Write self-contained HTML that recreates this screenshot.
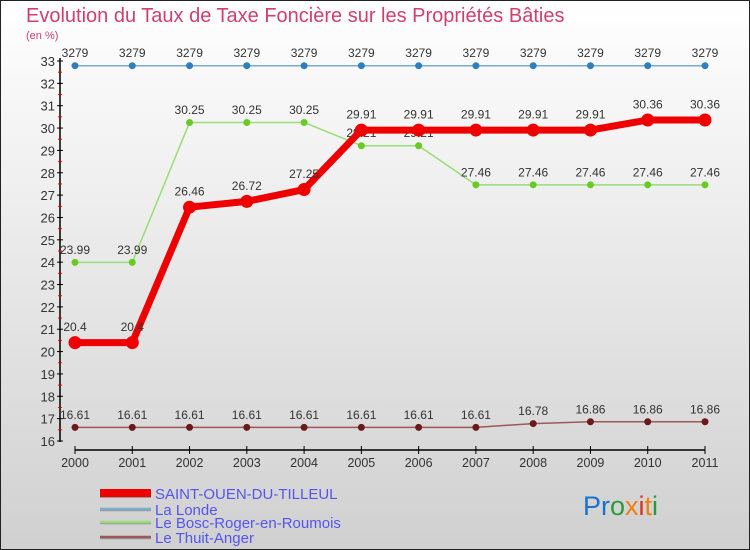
<!DOCTYPE html>
<html><head><meta charset="utf-8"><style>
body{margin:0;width:750px;height:550px;overflow:hidden}
svg{display:block;font-family:"Liberation Sans",sans-serif}
</style></head><body>
<svg id="c" width="750" height="550" xmlns="http://www.w3.org/2000/svg">
<defs><linearGradient id="bg" x1="0" y1="0" x2="0" y2="1"><stop offset="0" stop-color="#ffffff"/><stop offset="1" stop-color="#d0d0d0"/></linearGradient></defs>
<rect x="0.5" y="0.5" width="749" height="549" fill="url(#bg)" stroke="#222"/>
<text x="26" y="22" font-size="20" fill="#d0406a" font-weight="300">Evolution du Taux de Taxe Foncière sur les Propriétés Bâties</text>
<text x="26" y="39" font-size="11" fill="#d0406a">(en %)</text>
<g id="axes"></g>
<g id="series"></g>
<g id="legend"></g>
<text x="583" y="515" font-size="27"><tspan fill="#1a73c8">Pr</tspan><tspan fill="#2a9a3a">o</tspan><tspan fill="#f08010">x</tspan><tspan fill="#e03020">i</tspan><tspan fill="#f08010">t</tspan><tspan fill="#2a9a3a">i</tspan></text>
</svg>
<script>
const years=["2000","2001","2002","2003","2004","2005","2006","2007","2008","2009","2010","2011"];
const yTicks=[16,17,18,19,20,21,22,23,24,25,26,27,28,29,30,31,32,33];
const seriesNames=["SAINT-OUEN-DU-TILLEUL","La Londe","Le Bosc-Roger-en-Roumois","Le Thuit-Anger"];
const saintOuen=[20.4,20.4,26.46,26.72,27.25,29.91,29.91,29.91,29.91,29.91,30.36,30.36];
const laLonde=[32.79,32.79,32.79,32.79,32.79,32.79,32.79,32.79,32.79,32.79,32.79,32.79];
const boscRoger=[23.99,23.99,30.25,30.25,30.25,29.21,29.21,27.46,27.46,27.46,27.46,27.46];
const thuitAnger=[16.61,16.61,16.61,16.61,16.61,16.61,16.61,16.61,16.78,16.86,16.86,16.86];
const saintLabels=["20.4","20.4","26.46","26.72","27.25","29.91","29.91","29.91","29.91","29.91","30.36","30.36"];
const londeLabels=["3279","3279","3279","3279","3279","3279","3279","3279","3279","3279","3279","3279"];
const boscLabels=["23.99","23.99","30.25","30.25","30.25","29.21","29.21","27.46","27.46","27.46","27.46","27.46"];
const thuitLabels=["16.61","16.61","16.61","16.61","16.61","16.61","16.61","16.61","16.78","16.86","16.86","16.86"];

const NS="http://www.w3.org/2000/svg";
const x=i=>75+i*(630/(years.length-1));
const y=v=>441-(v-16)*(380/17);
function mk(tag,attrs,parent){const e=document.createElementNS(NS,tag);for(const k in attrs)e.setAttribute(k,attrs[k]);parent.appendChild(e);return e;}
const axes=document.getElementById('axes');
let e=mk('line',{x1:60,y1:58,x2:60,y2:442,stroke:'#000','stroke-width':1.5},axes);


yTicks.forEach(v=>{
  let t=mk('line',{x1:57,y1:y(v),x2:63,y2:y(v),stroke:'#000'},axes);
  
  
  if(v<33){let m=mk('line',{x1:58,y1:y(v+0.5),x2:62,y2:y(v+0.5),stroke:'#e00'},axes);
  
  }
  let l=mk('text',{x:55,y:y(v)+5,'text-anchor':'end','font-size':13,fill:'#333'},axes);
  l.textContent=v;
  
  
});
e=mk('line',{x1:75,y1:450,x2:705,y2:450,stroke:'#000','stroke-width':1.5},axes);


years.forEach((yr,i)=>{
  let t=mk('line',{x1:x(i),y1:446,x2:x(i),y2:454,stroke:'#000'},axes);
  
  
  let l=mk('text',{x:x(i),y:467,'text-anchor':'middle','font-size':12.5,fill:'#333'},axes);
  l.textContent=yr;
  
  
});
const sg=document.getElementById('series');
function draw(vals,labels,color,w,r,dot,name){
  const g=mk('g',{},sg);
  
  
  const p=mk('polyline',{points:vals.map((v,i)=>x(i)+','+y(v)).join(' '),fill:'none',stroke:color,'stroke-width':w,'stroke-linejoin':'round'},g);
  
  
  vals.forEach((v,i)=>{
    const c=mk('circle',{cx:x(i),cy:y(v),r:r,fill:dot},g);
    
    
    const t=mk('text',{x:x(i),y:y(v)-(r+5),'text-anchor':'middle','font-size':12,fill:'#333'},g);
    t.textContent=labels[i];
    
    
  });
}
draw(laLonde,londeLabels,'#7aaccc',1.5,3.5,'#2e7fc0','series-la-londe');
draw(boscRoger,boscLabels,'#99dd77',1.5,3.5,'#66cc22','series-bosc-roger');
draw(thuitAnger,thuitLabels,'#9a5a5a',1.5,3.5,'#6a1a1a','series-thuit-anger');
draw(saintOuen,saintLabels,'#ee0000',7,6.5,'#ee0000','series-saint-ouen');

const lg=document.getElementById('legend');
const legColors=['#ee0000','#7aaccc','#99dd77','#9a5a5a'];
const legW=[8,2.5,2.5,2.5];
const legY=[493,509,522,537];
seriesNames.forEach((n,i)=>{
  const g=mk('g',{},lg);
  
  
  mk('line',{x1:100,y1:legY[i]+1,x2:151,y2:legY[i]+1,stroke:'#999','stroke-width':legW[i]},g);
  mk('line',{x1:100,y1:legY[i],x2:151,y2:legY[i],stroke:legColors[i],'stroke-width':legW[i]},g);
  const t=mk('text',{x:155,y:legY[i]+6,'font-size':15,fill:'#5555ee'},g);
  t.textContent=n;
  
  
});
</script>
</body></html>
